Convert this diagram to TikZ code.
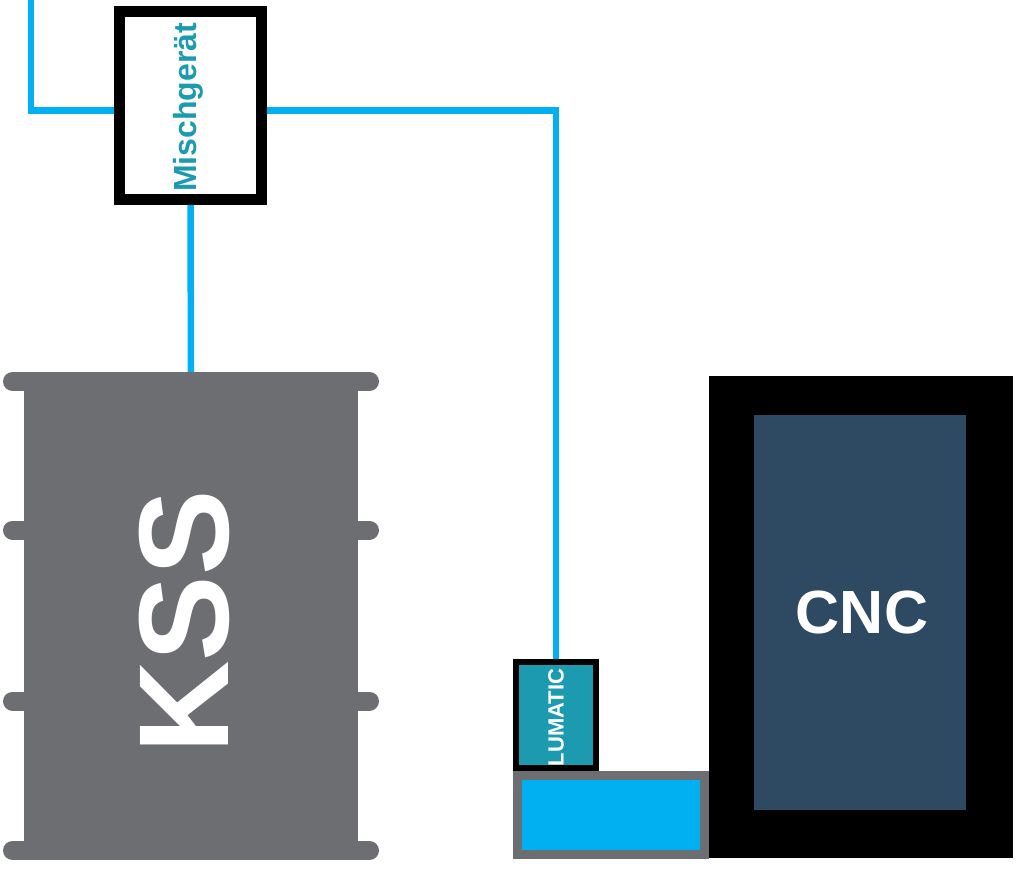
\documentclass[tikz,border=0pt]{standalone}
\usepackage{fontspec}
\setmainfont{Liberation Sans}
\usetikzlibrary{backgrounds}
\definecolor{pipe}{HTML}{00B0F0}
\definecolor{barrel}{HTML}{6D6E71}
\definecolor{tealc}{HTML}{1C9BB0}
\definecolor{cncblue}{HTML}{2E4A62}
\tikzset{
  pipeline/.style={draw=pipe,line width=6.5pt},
  boxnode/.style={draw=black,fill=white,line width=11pt,inner sep=0pt},
  rim/.style={draw=barrel,line width=19pt,line cap=round},
}
\begin{document}
\begin{tikzpicture}[x=1pt,y=-1pt]
\useasboundingbox (0,0) rectangle (1020,870);
% Mischgeraet
\node[boxnode,minimum width=142pt,minimum height=188pt] (mix) at (190.5,105.5) {};
\node (mixlabel) at (188.5,107.5)
  {\rotatebox{90}{\fontsize{32}{36}\selectfont\bfseries\color{tealc}Mischgerät}};
% KSS barrel
\node[fill=barrel,inner sep=0pt,minimum width=334pt,minimum height=469pt] (kss) at (191,615.5) {};
\foreach \yy in {381.5,530,701,850.5}
  \draw[rim] (12.5,\yy) -- (369.5,\yy);
\node (ksslabel) at (184,622)
  {\rotatebox{90}{\fontsize{128}{130}\selectfont\bfseries\color{white}KSS}};
% Lumatic
\node[draw=black,fill=tealc,line width=6pt,inner sep=0pt,minimum width=80pt,minimum height=106pt] (lum) at (556,715) {};
\node (lumlabel) at (556,717.5)
  {\rotatebox{90}{\fontsize{22}{24}\selectfont\bfseries\color{white}LUMATIC}};
% tank
\node[draw=barrel,fill=pipe,line width=9pt,inner sep=0pt,minimum width=187pt,minimum height=79pt] (tank) at (611,815) {};
% CNC
\node[fill=black,inner sep=0pt,minimum width=304pt,minimum height=482pt] (cncouter) at (861,617) {};
\node[fill=cncblue,inner sep=0pt,minimum width=212pt,minimum height=395pt] (cnc) at (860,612.5) {};
\node[text=white,font=\fontsize{61}{64}\selectfont\bfseries] (cnclabel) at (862,612.5) {CNC};
% pipes
\coordinate (src) at (31,0);
\begin{scope}[on background layer]
\draw[pipeline] (src) |- ([yshift=-5pt]mix.west);
\draw[pipeline] ([yshift=-5pt]mix.east) -| (lum.north);
\draw[pipeline] (mix.south) -- (kss.north);
\end{scope}
\end{tikzpicture}
\end{document}
